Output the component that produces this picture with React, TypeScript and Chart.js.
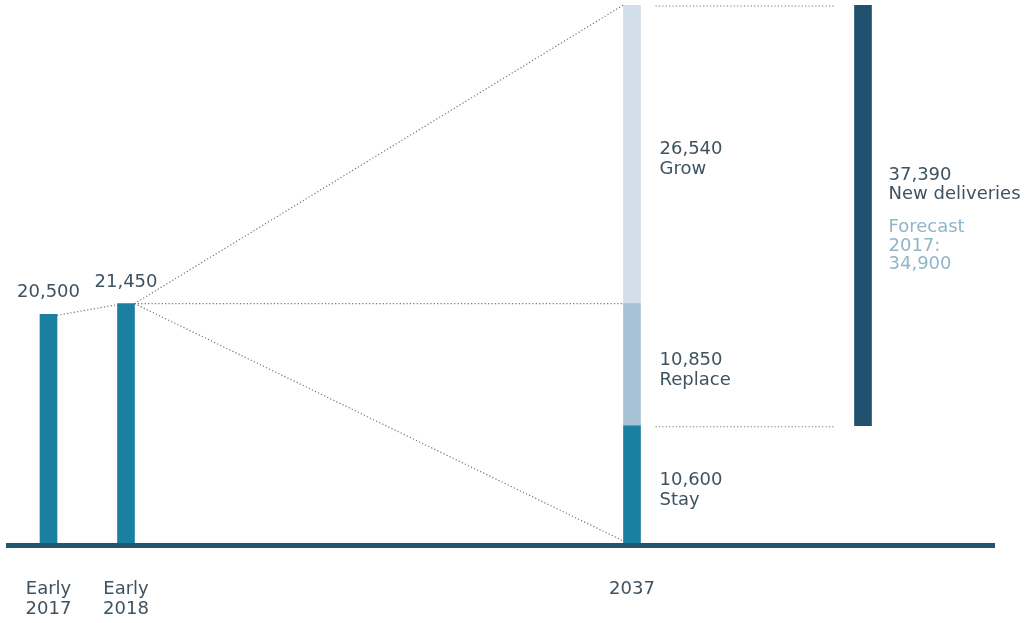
import React, { useEffect, useRef } from "react";
import { Chart, registerables } from "chart.js";

Chart.register(...registerables);

// ---- data ----
const categories = [["Early", "2017"], ["Early", "2018"], ["2037"]];
const historyValues = [20500, 21450];
const segmentNames = ["Stay", "Replace", "Grow"];
const segmentValues = [10600, 10850, 26540];
const newDeliveriesValue = 37390;
const newDeliveriesLabel = "New deliveries";
const forecastLines = ["Forecast", "2017:", "34,900"];

// ---- layout / style ----
const slotX = [48.5, 126, 632, 863];
const W = 1029;
const H = 623;
const BAR = 17;
const COLORS = {
  main: "#1a7fa1",
  replace: "#a7c1d5",
  grow: "#d1dde9",
  newDel: "#20516e",
  axis: "#235470",
  text: "#3e5260",
  forecast: "#8fb5c7",
  dots: "#6f757a",
};
const FONT = "18px 'DejaVu Sans', sans-serif";

const fmt = (v: number) => v.toLocaleString("en-US");

export default function App() {
  const ref = useRef<HTMLCanvasElement | null>(null);

  useEffect(() => {
    if (!ref.current) return;

    const cum: number[] = [];
    let acc = 0;
    segmentValues.forEach((v) => {
      cum.push(acc);
      acc += v;
    });
    const total = acc;
    const ndStart = total - newDeliveriesValue;

    const segColors = [COLORS.main, COLORS.replace, COLORS.grow];

    const datasets: any[] = [
      {
        label: "History",
        data: historyValues.map((v, i) => ({ x: slotX[i], y: v })),
        backgroundColor: COLORS.main,
      },
      ...segmentValues.map((v, i) => ({
        label: segmentNames[i],
        data: [{ x: slotX[2], y: [cum[i], cum[i] + v] }],
        backgroundColor: segColors[i],
      })),
      {
        label: newDeliveriesLabel,
        data: [{ x: slotX[3], y: [ndStart, total] }],
        backgroundColor: COLORS.newDel,
      },
    ];

    const overlay = {
      id: "overlay",
      afterDatasetsDraw(chart: any) {
        const { ctx, scales } = chart;
        const ys = scales.y;
        const y0 = ys.getPixelForValue(0);
        const hist = chart.getDatasetMeta(0).data;
        const segMeta = [1, 2, 3].map((i) => chart.getDatasetMeta(i).data[0]);
        const nd = chart.getDatasetMeta(4).data[0];
        const half = BAR / 2;

        ctx.save();
        // baseline
        ctx.fillStyle = COLORS.axis;
        ctx.fillRect(6, y0 - 2, 989, 5);

        // dotted connectors
        ctx.strokeStyle = COLORS.dots;
        ctx.lineWidth = 1.2;
        ctx.setLineDash([1.2, 2.2]);
        const line = (x1: number, y1: number, x2: number, y2: number) => {
          ctx.beginPath();
          ctx.moveTo(x1, y1);
          ctx.lineTo(x2, y2);
          ctx.stroke();
        };
        const a = hist[0];
        const b = hist[1];
        line(a.x + half, a.y + 1, b.x - half, b.y + 1);
        const left37 = segMeta[0].x - half;
        const right37 = segMeta[0].x + half;
        line(b.x + half, b.y, left37, ys.getPixelForValue(total));
        line(b.x + half, b.y, left37, ys.getPixelForValue(historyValues[1]));
        line(b.x + half, b.y, left37, y0 - 4);
        const ndLeft = nd.x - half;
        line(right37 + 15, ys.getPixelForValue(total) + 1, ndLeft - 20, ys.getPixelForValue(total) + 1);
        line(right37 + 15, ys.getPixelForValue(ndStart) + 1, ndLeft - 20, ys.getPixelForValue(ndStart) + 1);
        ctx.setLineDash([]);

        ctx.font = FONT;
        ctx.fillStyle = COLORS.text;
        ctx.textBaseline = "alphabetic";

        // values above history bars
        ctx.textAlign = "center";
        hist.forEach((el: any, i: number) => {
          ctx.fillText(fmt(historyValues[i]), el.x, el.y - 17);
        });

        // category labels
        const catX = [hist[0].x, hist[1].x, segMeta[0].x];
        categories.forEach((lines, i) => {
          lines.forEach((t, j) => ctx.fillText(t, catX[i], y0 + 49 + j * 20));
        });

        // segment labels
        ctx.textAlign = "left";
        segmentValues.forEach((v, i) => {
          const top = ys.getPixelForValue(cum[i] + v);
          const bot = ys.getPixelForValue(cum[i]);
          const c = (top + bot) / 2;
          const lx = right37 + 19;
          ctx.fillText(fmt(v), lx, c);
          ctx.fillText(segmentNames[i], lx, c + 20);
        });

        // new deliveries labels
        const ndc = (ys.getPixelForValue(total) + ys.getPixelForValue(ndStart)) / 2;
        const nx = nd.x + half + 17;
        ctx.fillText(fmt(newDeliveriesValue), nx, ndc - 35);
        ctx.fillText(newDeliveriesLabel, nx, ndc - 16);
        ctx.fillStyle = COLORS.forecast;
        forecastLines.forEach((t, j) => ctx.fillText(t, nx, ndc + 17 + j * 18.5));
        ctx.restore();
      },
    };

    const chart = new Chart(ref.current, {
      type: "bar",
      data: { datasets },
      options: {
        animation: false,
        responsive: false,
        maintainAspectRatio: false,
        layout: { padding: { top: 5, bottom: 78, left: 0, right: 0 } },
        datasets: { bar: { barThickness: BAR, grouped: false, borderSkipped: false } } as any,
        plugins: { legend: { display: false }, tooltip: { enabled: false } },
        scales: {
          x: { type: "linear", min: 0, max: W, offset: false, display: false },
          y: { min: 0, max: total, display: false },
        },
      },
      plugins: [overlay],
    });

    return () => chart.destroy();
  }, []);

  return (
    <div style={{ position: "fixed", left: 0, top: 0, width: W, height: H, background: "#fff" }}>
      <canvas ref={ref} width={W} height={H} style={{ width: W, height: H, display: "block" }} />
    </div>
  );
}
